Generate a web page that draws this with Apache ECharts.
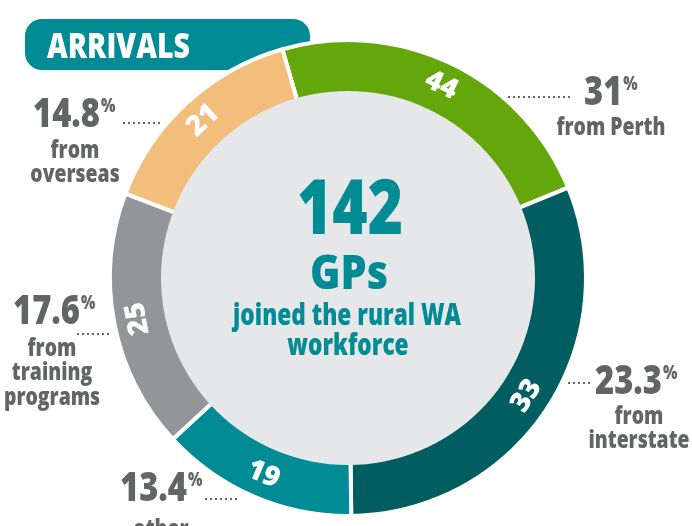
<!DOCTYPE html>
<html>
<head>
<meta charset="utf-8">
<script src="https://cdn.jsdelivr.net/npm/echarts@6/dist/echarts.min.js"></script>
<style>
html,body{margin:0;padding:0;background:#fff;}
#chart{width:692px;height:526px;}
</style>
</head>
<body>
<div id="chart"></div>
<script>
// ---- data ----
const categories = ['from Perth', 'from interstate', 'other', 'from training programs', 'from overseas'];
const gpCounts = [44, 33, 19, 25, 21];            // numbers printed on the ring
const arcShare = [33, 44, 19, 25, 21];            // angular share of each drawn arc (as measured)
const percentLabels = ['31', '23.3', '13.4', '17.6', '14.8'];
const descLines = [['from Perth'], ['from', 'interstate'], ['other'], ['from', 'training', 'programs'], ['from', 'overseas']];
const totalGPs = 142;
const centerLines = ['GPs', 'joined the rural WA', 'workforce'];
const bannerTitle = 'ARRIVALS';

// ---- styling / layout ----
const FONT = "'Open Sans', 'Noto Sans', 'DejaVu Sans', sans-serif";
const WEIGHT = '800';
const colors = ['#64a70b', '#005e60', '#008b95', '#939598', '#f3bd7c'];
const TEAL = '#008b95';
const GREY_TXT = '#636466';
const CX = 348, CY = 278;
const START = 106;

const outerLayout = [
  { nx: 584, ny: 93,  dx: 611, dy: [128], dot: [508, 573, 97] },
  { nx: 595, ny: 382, dx: 639, dy: [417, 441], dot: [568, 593, 383] },
  { nx: 120, ny: 489, dx: 161, dy: [530], dot: [205, 240, 499] },
  { nx: 13,  ny: 312, dx: 52,  dy: [349, 373, 398], dot: [77, 112, 334] },
  { nx: 33,  ny: 115, dx: 75,  dy: [151, 175], dot: [123, 160, 123] }
];

const mctx = document.createElement('canvas').getContext('2d');
function measure(text, fs) {
  mctx.font = WEIGHT + ' ' + fs + 'px ' + FONT;
  return mctx.measureText(text).width;
}

const sumShare = arcShare.reduce((a, b) => a + b, 0);
let cum = 0;
const ringData = arcShare.map((v, i) => {
  const mid = START - 360 * (cum + v / 2) / sumShare;
  cum += v;
  let rot = mid - 90;
  if (Math.sin(mid * Math.PI / 180) < -0.3) rot += 180;
  rot = ((rot + 180) % 360 + 360) % 360 - 180;
  return {
    name: categories[i],
    value: v,
    itemStyle: { color: colors[i] },
    label: { rotate: rot, formatter: String(gpCounts[i]) }
  };
});

const graphics = [];
function addText(text, x, y, fs, color, align, scaleX, z) {
  graphics.push({
    type: 'text', z: z == null ? 100 : z, x: x, y: y, scaleX: scaleX,
    style: { text: text, fill: color, font: WEIGHT + ' ' + fs + 'px ' + FONT, textAlign: align, textVerticalAlign: 'middle' }
  });
}

graphics.push({
  type: 'rect', z: 0,
  shape: { x: 25, y: 19, width: 285, height: 51, r: 17 },
  style: { fill: TEAL }
});
addText(bannerTitle, 47, 48, 35, '#fff', 'left', 143 / measure(bannerTitle, 35), 1);

// centre text
addText(String(totalGPs), 350, 212, 77, TEAL, 'center', 106 / measure(String(totalGPs), 77));
addText(centerLines[0], 349, 275, 48, TEAL, 'center', 78 / measure(centerLines[0], 48));
const sSub = 228 / measure(centerLines[1], 30);
addText(centerLines[1], 347, 316, 30, TEAL, 'center', sSub);
addText(centerLines[2], 348, 346, 30, TEAL, 'center', sSub);

// outer labels
const NUM_FS = 41, DESC_FS = 25;
const sNum = 67 / measure('14.8', NUM_FS);
const sDesc = 109 / measure('from Perth', DESC_FS);
outerLayout.forEach((L, i) => {
  const w = measure(percentLabels[i], NUM_FS) * sNum;
  addText(percentLabels[i], L.nx, L.ny, NUM_FS, GREY_TXT, 'left', sNum);
  addText('%', L.nx + w + 1, L.ny - 8, 19, GREY_TXT, 'left', sNum);
  descLines[i].forEach((t, k) => {
    addText(t, L.dx, L.dy[k], DESC_FS, GREY_TXT, 'center', sDesc);
  });
  graphics.push({
    type: 'line', z: 100,
    shape: { x1: L.dot[0], y1: L.dot[2], x2: L.dot[1], y2: L.dot[2] },
    style: { stroke: GREY_TXT, lineWidth: 2, lineDash: [2, 3] }
  });
});

const chart = echarts.init(document.getElementById('chart'), null, { renderer: 'canvas' });
chart.setOption({
  animation: false,
  backgroundColor: '#fff',
  graphic: { elements: graphics },
  series: [
    {
      type: 'pie', z: 2,
      center: [CX, CY], radius: [184, 238],
      startAngle: START, clockwise: true,
      silent: true,
      itemStyle: { borderColor: '#fff', borderWidth: 4 },
      label: {
        show: true, position: 'inside',
        color: '#fff', fontFamily: FONT, fontWeight: WEIGHT, fontSize: 28
      },
      labelLine: { show: false },
      emphasis: { disabled: true },
      data: ringData
    },
    {
      type: 'pie', z: 3,
      center: [CX, CY], radius: [0, 187],
      silent: true,
      label: { show: false }, labelLine: { show: false },
      emphasis: { disabled: true },
      itemStyle: { color: '#e6e7e8', borderWidth: 0 },
      data: [{ value: totalGPs, name: 'total' }]
    }
  ]
});
</script>
</body>
</html>
